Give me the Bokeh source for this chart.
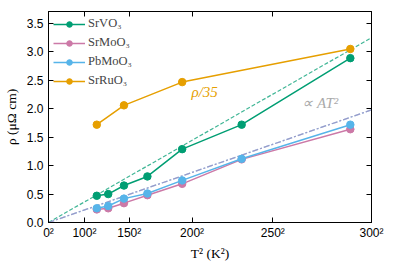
from bokeh.plotting import figure
from bokeh.models import Range1d, FixedTicker, LinearAxis, Label, CustomLabelingPolicy
from bokeh.embed import file_html
from bokeh.resources import INLINE

# ---- data ----
temps = [116, 129, 145, 166, 193, 232, 290]
srvo3 = [0.47, 0.50, 0.65, 0.81, 1.29, 1.72, 2.89]
srmoo3 = [0.23, 0.25, 0.34, 0.48, 0.68, 1.11, 1.64]
pbmoo3 = [0.25, 0.29, 0.42, 0.51, 0.74, 1.12, 1.72]
temps_ru = [116, 145, 193, 290]
srruo3 = [60.2, 72.1, 86.4, 106.8]
ru_scale = 35
A_srvo3 = 3.61e-5
A_srmoo3 = 2.20e-5
A_pbmoo3 = 2.20e-5
tick_T = [0, 100, 150, 200, 250, 300]
y_ticks = [0, 0.5, 1.0, 1.5, 2.0, 2.5, 3.0, 3.5]

T2 = [t ** 2 for t in temps]
T2_ru = [t ** 2 for t in temps_ru]
ru_plot = [v / ru_scale for v in srruo3]

x_max = 300 ** 2
fit_x = [0, x_max]

GREEN = "#009e73"
PINK = "#cc79a7"
BLUE = "#56b4e9"
ORANGE = "#e69f00"

SERIF = "Liberation Serif"
SANS = "Liberation Sans"

p = figure(frame_width=323, frame_height=211, output_backend="svg", toolbar_location=None,
           x_range=Range1d(0, x_max), y_range=Range1d(0, 3.71),
           min_border_left=42, min_border_right=4, min_border_top=0,
           min_border_bottom=36)
p.grid.visible = False
p.outline_line_color = "black"
p.background_fill_color = "white"
p.border_fill_color = "white"

xt = FixedTicker(ticks=[t ** 2 for t in tick_T])
yt = FixedTicker(ticks=y_ticks)

p.xaxis.ticker = xt
p.xaxis.major_label_overrides = {t ** 2: f"{t}\u00b2" for t in tick_T}
p.yaxis.ticker = yt
p.yaxis.major_label_overrides = {v: f"{v:.1f}" for v in y_ticks}

for ax in (p.xaxis[0], p.yaxis[0]):
    ax.major_tick_in = 5
    ax.major_tick_out = 0
    ax.minor_tick_in = 0
    ax.minor_tick_out = 0
    ax.major_label_text_font = SANS
    ax.major_label_text_font_size = "12px"
    ax.major_label_text_color = "black"
    ax.axis_label_text_font = SERIF
    ax.axis_label_text_font_size = "13.5px"
    ax.axis_label_text_font_style = "normal"
    ax.axis_label_text_color = "black"
    ax.axis_line_color = "black"
    ax.major_tick_line_color = "black"

p.xaxis.axis_label = "T\u00b2 (K\u00b2)"
p.yaxis.axis_label = "\u03c1 (\u03bc\u03a9 cm)"
p.xaxis.major_label_standoff = 3
p.yaxis.major_label_standoff = 5
p.xaxis.axis_label_standoff = 3
p.yaxis.axis_label_standoff = 5

top = LinearAxis(ticker=xt, major_tick_in=5, major_tick_out=0, minor_tick_in=0,
                 minor_tick_out=0, major_label_policy=CustomLabelingPolicy(code="return new Set()"),
                 major_label_standoff=0, axis_line_color="black")
right = LinearAxis(ticker=yt, major_tick_in=5, major_tick_out=0, minor_tick_in=0,
                   minor_tick_out=0, major_label_policy=CustomLabelingPolicy(code="return new Set()"),
                   major_label_standoff=0, axis_line_color="black")
p.add_layout(top, "above")
p.add_layout(right, "right")

# fit lines
p.line(fit_x, [A_srvo3 * x for x in fit_x], color=GREEN, line_width=1.2,
       line_dash="4 2", line_alpha=0.75)
p.line(fit_x, [A_pbmoo3 * x for x in fit_x], color=BLUE, line_width=1.3,
       line_dash="6 2 2 2", line_alpha=0.9)
p.line(fit_x, [A_srmoo3 * x for x in fit_x], color=PINK, line_width=1.3,
       line_dash="6 2 2 2", line_alpha=0.5)

series = [
    ("SrVO\u2083", T2, srvo3, GREEN),
    ("SrMoO\u2083", T2, srmoo3, PINK),
    ("PbMoO\u2083", T2, pbmoo3, BLUE),
    ("SrRuO\u2083", T2_ru, ru_plot, ORANGE),
]
for name, xs, ys, c in series:
    p.line(xs, ys, color=c, line_width=1.5, legend_label=name)
    p.scatter(xs, ys, color=c, size=7.5, legend_label=name)

p.add_layout(Label(x=43500, y=2.3, text="\u03c1/35", text_color=ORANGE,
                   text_font=SERIF, text_font_style="italic", text_font_size="15px",
                   text_align="center", text_baseline="middle"))
p.add_layout(Label(x=75800, y=2.1, text="\u221d AT\u00b2", text_color="#aaaaaa",
                   text_font=SERIF, text_font_style="italic", text_font_size="15px",
                   text_align="center", text_baseline="middle"))

lg = p.legend[0]
lg.location = "top_left"
lg.border_line_color = None
lg.background_fill_alpha = 0
lg.margin = 5
lg.padding = 4
lg.spacing = 4
lg.glyph_width = 32
lg.glyph_height = 14
lg.label_height = 14
lg.label_standoff = 3
lg.label_text_font = SERIF
lg.label_text_font_size = "12.5px"

open("out.html", "w").write(file_html(p, INLINE))
